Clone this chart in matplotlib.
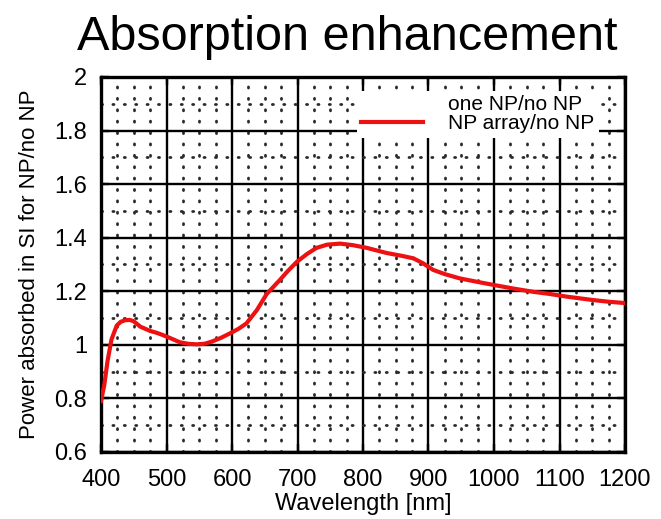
import matplotlib
matplotlib.use('Agg')
import matplotlib.pyplot as plt
from matplotlib.ticker import MultipleLocator

wavelength = [400, 405, 410, 416, 424, 430, 437, 444, 450, 460, 475, 485, 493, 505, 520, 533,
              546, 558, 569, 583, 597, 610, 622, 638, 653, 673, 685, 699, 715, 729, 745, 765,
              785, 806, 820, 836, 860, 877, 892, 907, 925, 948, 975, 1001, 1030, 1060, 1085,
              1111, 1152, 1175, 1200]
ratio_array = [0.79, 0.85, 0.94, 1.02, 1.072, 1.086, 1.092, 1.093, 1.088, 1.068, 1.052, 1.045,
               1.038, 1.026, 1.01, 1.004, 1.002, 1.004, 1.012, 1.026, 1.043, 1.06, 1.08, 1.13,
               1.19, 1.242, 1.275, 1.31, 1.34, 1.362, 1.374, 1.378, 1.372, 1.362, 1.353, 1.343,
               1.332, 1.323, 1.304, 1.28, 1.264, 1.248, 1.235, 1.223, 1.21, 1.198, 1.19, 1.18,
               1.167, 1.161, 1.156]
labels = ['one NP/no NP', 'NP array/no NP']

plt.rcParams['font.family'] = ['Liberation Sans', 'DejaVu Sans']

dpi = 100
fig = plt.figure(figsize=(661 / dpi, 519 / dpi), dpi=dpi)
ax = fig.add_axes([101 / 661, 1 - 452 / 519, 524 / 661, 375 / 519])

# first curve not visible in the picture, only its legend entry
ax.plot([], [], color='white', lw=3, label=labels[0])
ax.plot(wavelength, ratio_array, color='#ee1111', lw=3, label=labels[1], zorder=5,
        solid_joinstyle='round')

ax.set_xlim(400, 1200)
ax.set_ylim(0.6, 2)
ax.xaxis.set_major_locator(MultipleLocator(100))
ax.xaxis.set_minor_locator(MultipleLocator(25))
ax.yaxis.set_minor_locator(MultipleLocator(0.1))
ax.set_yticks([0.6, 0.8, 1, 1.2, 1.4, 1.6, 1.8, 2])
ax.set_yticklabels(['0.6', '0.8', '1', '1.2', '1.4', '1.6', '1.8', '2'])

ax.grid(which='major', color='black', lw=1.7)
ax.grid(which='minor', color='#2a2a2a', lw=2.0, linestyle=(0, (0.4, 3.7)),
        dash_capstyle='round')
ax.set_axisbelow(True)

ax.tick_params(which='major', direction='in', top=True, right=True, length=6, width=1.7,
               labelsize=17, pad=10, colors='black')
ax.tick_params(which='minor', length=0)
ax.tick_params(axis='x', pad=12)
for s in ax.spines.values():
    s.set_linewidth(2.4)

ax.set_xlabel('Wavelength [nm]', fontsize=17, labelpad=2)
ax.set_ylabel('Power absorbed in SI for NP/no NP', fontsize=16, labelpad=10)

leg = ax.legend(loc='upper right', bbox_to_anchor=(0.97, 0.99), fontsize=15,
                frameon=True, fancybox=False, edgecolor='none', framealpha=1,
                handlelength=3.0, labelspacing=0.0, borderpad=0.2, handletextpad=1.2)
leg.get_frame().set_linewidth(0)

fig.text(0.525, 0.928, 'Absorption enhancement', fontsize=35, ha='center', va='center')

fig.savefig('out.png', dpi=dpi)
